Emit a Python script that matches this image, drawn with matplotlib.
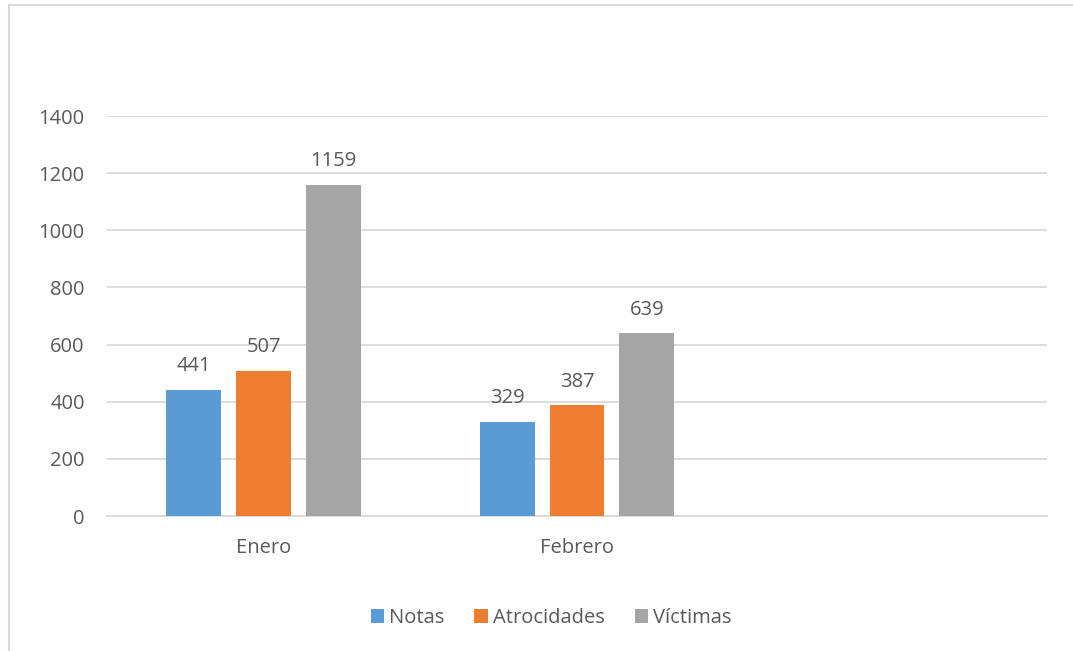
import matplotlib.pyplot as plt
from matplotlib.lines import Line2D
import numpy as np

plt.rcParams['font.family'] = ['Open Sans', 'DejaVu Sans']

meses = ["Enero", "Febrero"]
notas = [441, 329]
atrocidades = [507, 387]
victimas = [1159, 639]
series = ["Notas", "Atrocidades", "Víctimas"]
colores = ["#5B9BD5", "#ED7D31", "#A5A5A5"]
texto = "#595959"

fig = plt.figure(figsize=(10.73, 6.51), dpi=100)
ax = fig.add_axes([107/1073, 1 - 516/651, 940/1073, 400/651])

x = np.arange(len(meses))
ancho = 0.175
paso = 0.223
for i, (vals, nombre, c) in enumerate(zip([notas, atrocidades, victimas], series, colores)):
    pos = x + (i - 1) * paso
    barras = ax.bar(pos, vals, ancho, color=c, label=nombre, zorder=3)
    for b, v in zip(barras, vals):
        ax.annotate(str(v), (b.get_x() + b.get_width() / 2, v), xytext=(0, 10),
                    textcoords="offset points", ha="center", va="bottom",
                    fontsize=14.5, color=texto, annotation_clip=False)

ax.set_xlim(-0.5, 2.5)
ax.set_ylim(0, 1400)
ax.set_yticks(range(0, 1401, 200))
ax.set_xticks(x)
ax.set_xticklabels(meses)
ax.tick_params(axis="both", length=0, labelsize=14.5, labelcolor=texto)
ax.tick_params(axis="x", pad=16)
ax.tick_params(axis="y", pad=16)
ax.grid(axis="y", color="#D9D9D9", linewidth=1.3, zorder=0)
for s in ["top", "right", "left"]:
    ax.spines[s].set_visible(False)
ax.spines["bottom"].set_color("#D9D9D9")
ax.spines["bottom"].set_linewidth(1.3)

# marco del grafico
fig.add_artist(Line2D([8.5/1073, 8.5/1073], [0, 1 - 5/651], color="#D9D9D9", linewidth=1.5))
fig.add_artist(Line2D([8.5/1073, 1], [1 - 5/651, 1 - 5/651], color="#D9D9D9", linewidth=1.5))

fig.legend(loc="center", bbox_to_anchor=(551/1073, 1 - 618/651), ncol=3, frameon=False,
           fontsize=14.5, labelcolor=texto, handlelength=0.65, handleheight=0.65,
           handletextpad=0.25, columnspacing=1.5)

fig.savefig("out.png", dpi=100)
